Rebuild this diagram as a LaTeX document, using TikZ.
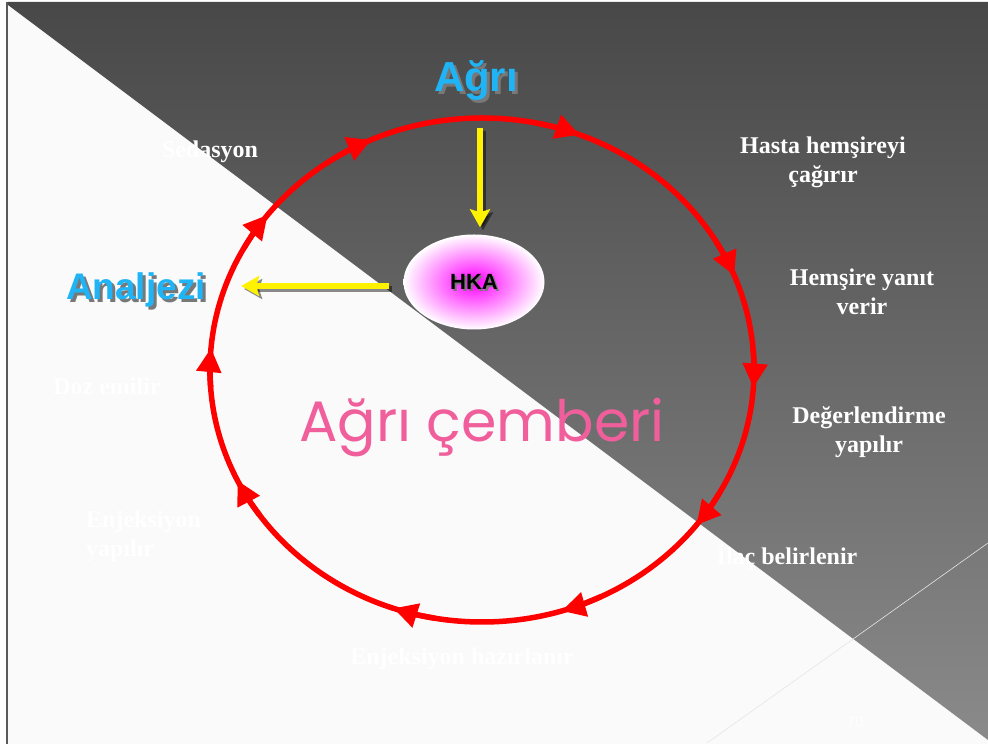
\documentclass[tikz,border=0pt]{standalone}
\usepackage{fontspec}
\setmainfont{Liberation Serif}
\newfontfamily\headfont{Liberation Sans}
\newfontfamily\roundfont{Poppins}
\usetikzlibrary{arrows.meta,shapes.geometric}
\definecolor{slidebg}{RGB}{250,250,250}
\definecolor{darktop}{RGB}{72,72,72}
\definecolor{darkbot}{RGB}{138,138,138}
\definecolor{cycred}{RGB}{255,0,0}
\definecolor{skyblue}{RGB}{30,180,245}
\definecolor{rosepink}{RGB}{240,95,155}
\definecolor{shadowgray}{RGB}{120,120,120}

\begin{document}
\begin{tikzpicture}[x=1pt,y=1pt,>=latex,
    steplabel/.style={text=white,font=\fontsize{24}{29}\selectfont\bfseries,inner sep=0pt,anchor=base},
    yarrow/.style={yellow,line width=5.5pt,-{Stealth[length=18pt,width=20pt,inset=3pt]}},
    yshade/.style={yarrow,black,opacity=.45,transform canvas={shift={(3pt,-3pt)}}},
    cyctip/.style={cycred,line width=5.5pt,-{Triangle[length=24pt,width=24pt]}}]
        \useasboundingbox (0,0) rectangle (988,744);
        % slide background
        \fill[white] (0,0) rectangle (988,744);
        \fill[slidebg] (7,0) rectangle (988,742);
        \shade[top color=darktop,bottom color=darkbot] (8,742) -- (988,742) -- (988,4) -- (8,739) -- cycle;
        \draw[line width=1.5pt,black!65] (7,0) -- (7,742);
        \draw[black!10,line width=.6pt] (707,1) -- (988,201);
        \node[text=white,font=\headfont\fontsize{15}{15}\selectfont] (pageno) at (855,22) {70};

        % the cycle
        \coordinate (c) at (482,374);
        \draw[cycred,line width=5.5pt] (c) ellipse [x radius=272,y radius=252];
        \foreach \a in {69,22,-4,-38,-73,-109,-154,175,142,114}
        {
            \draw[cyctip] (c) ++(\a+9:272 and 252) arc[start angle=\a+9,end angle=\a,x radius=272,y radius=252];
        }

        \node[steplabel] (sedasyon) at (210,586) {Sedasyon};
        \node[steplabel,align=center] (hasta) at (823,561) {Hasta hemşireyi\\çağırır};
        \node[steplabel,align=center] (hemsire) at (862,429) {Hemşire yanıt\\verir};
        \node[steplabel,align=center] (degerlendirme) at (869,291) {Değerlendirme\\yapılır};
        \node[steplabel] (ilac) at (787,179) {İlaç belirlenir};
        \node[steplabel] (enjhazir) at (462,79) {Enjeksiyon hazırlanır};
        \node[steplabel,align=left,anchor=base west] (enjyap) at (86,187) {Enjeksiyon\\yapılır};
        \node[steplabel] (doz) at (107,349) {Doz emilir};

        % titles
        \node[font=\headfont\bfseries\fontsize{42}{42}\selectfont,text=shadowgray,inner sep=0pt,anchor=base] at (479,649) {Ağrı};
        \node[font=\headfont\bfseries\fontsize{42}{42}\selectfont,text=skyblue,inner sep=0pt,anchor=base] (agri) at (476,652) {Ağrı};
        \node[font=\headfont\bfseries\fontsize{37}{37}\selectfont,text=shadowgray,inner sep=0pt,anchor=base] at (139,441) {Analjezi};
        \node[font=\headfont\bfseries\fontsize{37}{37}\selectfont,text=skyblue,inner sep=0pt,anchor=base] (analjezi) at (136,444) {Analjezi};
        \node[font=\roundfont\fontsize{57}{57}\selectfont,text=rosepink,inner sep=0pt,anchor=base] (cember) at (482,302) {Ağrı çemberi};

        % HKA
        \node[ellipse,minimum width=141pt,minimum height=95pt,inner color=magenta,outer color=white] (hka) at (474,462) {};
        \node[font=\headfont\bfseries\fontsize{22}{22}\selectfont,text=shadowgray] at ([shift={(2,-2)}]hka) {HKA};
        \node[font=\headfont\bfseries\fontsize{22}{22}\selectfont] (hkatext) at (hka) {HKA};

        \draw[yshade] ([xshift=4pt,yshift=-27pt]agri.south) -- ([xshift=6pt,yshift=7pt]hka.north);
        \draw[yarrow] ([xshift=4pt,yshift=-27pt]agri.south) -- ([xshift=6pt,yshift=7pt]hka.north);
        \draw[yshade] ([xshift=-14pt,yshift=-4pt]hka.west) -- ([xshift=35pt,yshift=-4pt]hka.west -| analjezi.east);
        \draw[yarrow] ([xshift=-14pt,yshift=-4pt]hka.west) -- ([xshift=35pt,yshift=-4pt]hka.west -| analjezi.east);
    \end{tikzpicture}
\end{document}
